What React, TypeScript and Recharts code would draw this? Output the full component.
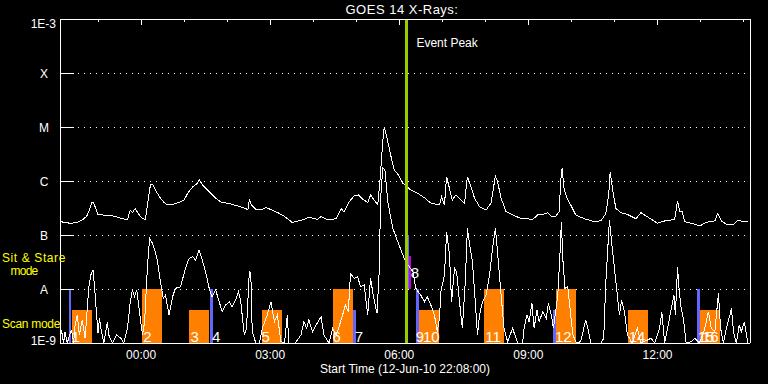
import React from 'react';
import {
  ComposedChart,
  Line,
  Scatter,
  XAxis,
  YAxis,
  CartesianGrid,
  ReferenceArea,
  ReferenceLine,
} from 'recharts';

// time = minutes from 00:00 UT, 13-Jun-10 (negative values are 12-Jun)
const timeDomain = [-113, 849];
const hourTicks = [-60, 0, 60, 120, 180, 240, 300, 360, 420, 480, 540, 600, 660, 720, 780, 840];
const timeLabelTicks = [0, 180, 360, 540, 720];
const fluxTicks = [1e-9, 1e-8, 1e-7, 1e-6, 1e-5, 1e-4, 1e-3];
const fluxTickNames = ['1E-9', 'A', 'B', 'C', 'M', 'X', '1E-3'];

// GOES 14 long channel (1-8 A)
const longTimes = [
  -113, -107, -98, -89, -82, -76, -73, -69, -67, -63,
  -60, -54, -42, -31, -19, -15, -12, -8, -4, 2,
  6, 9, 13, 16, 20, 27, 32, 37, 44, 53,
  60, 65, 72, 79, 81, 86, 95, 104, 111, 127,
  146, 149, 151, 154, 160, 169, 174, 183, 193, 200,
  204, 211, 218, 225, 234, 246, 251, 260, 272, 279,
  283, 290, 297, 303, 309, 316, 320, 325, 330, 333,
  337, 339, 342, 348, 353, 359, 365, 369, 376, 386,
  395, 404, 416, 419, 423, 426, 430, 434, 439, 446,
  451, 455, 460, 465, 472, 481, 488, 494, 497, 502,
  509, 518, 529, 537, 546, 553, 560, 567, 572, 578,
  583, 585, 587, 590, 595, 599, 606, 618, 630, 641,
  648, 652, 654, 658, 662, 669, 678, 690, 697, 704,
  713, 720, 730, 739, 744, 748, 751, 754, 758, 767,
  779, 788, 800, 804, 809, 816, 825, 832, 839, 847,
];
const longFlux = [
  1.8e-7, 1.7e-7, 1.65e-7, 1.7e-7, 1.9e-7, 2.2e-7, 2.7e-7, 3.9e-7, 4.1e-7, 3.1e-7,
  2.4e-7, 2.35e-7, 2.3e-7, 2.1e-7, 1.9e-7, 2.9e-7, 2.6e-7, 3.1e-7, 2.5e-7, 2.0e-7,
  1.95e-7, 3.6e-7, 8.4e-7, 8.7e-7, 6.8e-7, 4.8e-7, 4.0e-7, 3.6e-7, 3.7e-7, 4.0e-7,
  4.45e-7, 5.9e-7, 7.8e-7, 9.1e-7, 1.07e-6, 8.4e-7, 6.3e-7, 4.8e-7, 4.1e-7, 3.7e-7,
  3.1e-7, 2.9e-7, 4.45e-7, 3.6e-7, 3.0e-7, 3.0e-7, 3.2e-7, 2.9e-7, 2.5e-7, 2.2e-7,
  2.0e-7, 1.7e-7, 1.8e-7, 1.9e-7, 2.13e-7, 1.95e-7, 2.2e-7, 1.9e-7, 2.0e-7, 3.1e-7,
  2.63e-7, 4.1e-7, 5.27e-7, 5.5e-7, 4.6e-7, 4.0e-7, 5.5e-7, 4.45e-7, 3.6e-7, 9.7e-7,
  5.3e-6, 1.01e-5, 7.1e-6, 3.03e-6, 1.6e-6, 1.29e-6, 9.1e-7, 8.4e-7, 6.8e-7, 5.9e-7,
  4.9e-7, 3.9e-7, 3.6e-7, 5.1e-7, 3.6e-7, 1.2e-6, 7.3e-7, 4.45e-7, 5.5e-7, 4.45e-7,
  3.9e-7, 1.2e-6, 7.8e-7, 4.8e-7, 3.34e-7, 2.9e-7, 3.9e-7, 1.24e-6, 9.7e-7, 4.8e-7,
  2.7e-7, 2.35e-7, 2.04e-7, 2.0e-7, 1.95e-7, 2.35e-7, 2.4e-7, 2.6e-7, 2.2e-7, 2.2e-7,
  2.7e-7, 9.7e-7, 1.72e-6, 6.8e-7, 4.45e-7, 3.6e-7, 2.35e-7, 2.0e-7, 1.8e-7, 1.82e-7,
  2.5e-7, 5.5e-7, 1.49e-6, 6.3e-7, 3.1e-7, 2.6e-7, 2.4e-7, 2.0e-7, 2.6e-7, 2.25e-7,
  1.9e-7, 1.65e-7, 1.82e-7, 1.9e-7, 1.95e-7, 4.3e-7, 2.7e-7, 2.78e-7, 1.76e-7, 1.65e-7,
  1.47e-7, 1.72e-7, 1.82e-7, 2.5e-7, 1.82e-7, 1.58e-7, 1.53e-7, 1.9e-7, 1.76e-7, 1.82e-7,
];

// GOES 14 short channel (0.5-4 A)
const shortTimes = [
  -113, -111, -108, -106, -103, -97, -94, -92, -89, -86,
  -82, -78, -73, -70, -67, -65, -62, -60, -58, -56,
  -52, -47, -45, -40, -34, -28, -24, -19, -15, -12,
  -9, -6, -2, 2, 5, 9, 12, 16, 20, 23,
  27, 31, 34, 39, 44, 48, 55, 62, 67, 72,
  76, 81, 86, 90, 95, 99, 104, 109, 113, 118,
  123, 127, 132, 136, 139, 144, 147, 151, 153, 155,
  160, 165, 169, 176, 181, 186, 190, 195, 200, 204,
  206, 215, 223, 227, 231, 234, 239, 244, 251, 255,
  262, 267, 272, 276, 281, 285, 289, 292, 297, 302,
  306, 311, 316, 320, 324, 329, 332, 334, 337, 340,
  344, 351, 358, 365, 369, 374, 379, 383, 390, 395,
  399, 404, 409, 413, 416, 418, 423, 426, 430, 433,
  437, 440, 444, 448, 452, 455, 459, 462, 466, 469,
  472, 476, 481, 486, 490, 494, 497, 502, 506, 511,
  518, 525, 532, 534, 538, 541, 545, 548, 552, 555,
  560, 565, 568, 572, 575, 578, 581, 584, 586, 588,
  591, 595, 599, 602, 607, 613, 620, 624, 627, 641,
  645, 648, 651, 653, 656, 660, 664, 667, 670, 674,
  678, 685, 692, 697, 711, 716, 723, 726, 730, 734,
  739, 743, 745, 748, 750, 753, 756, 760, 767, 772,
  779, 786, 791, 795, 800, 805, 808, 812, 816, 821,
  823, 826, 830, 834, 837, 841, 846,
];
const shortFlux = [
  1e-9, 1.74e-9, 1e-9, 1.6e-9, 1e-9, 1.74e-9, 1e-9, 2.15e-9, 3.3e-9, 1.41e-9,
  2.67e-9, 1.22e-9, 1.03e-8, 1.82e-8, 2.25e-8, 1.19e-8, 3.3e-9, 1.53e-9, 2.87e-9, 1.87e-9,
  1e-9, 2.45e-9, 1.41e-9, 1e-9, 1.41e-9, 1.22e-9, 1e-9, 1.87e-9, 5.8e-9, 9.6e-9,
  7.2e-9, 9.6e-9, 3.6e-9, 1.41e-9, 2.48e-9, 2.78e-8, 8.7e-8, 7.0e-8, 4.9e-8, 3.2e-8,
  1.36e-8, 6.7e-9, 7.7e-9, 3.3e-9, 7.2e-9, 1.03e-8, 1.1e-8, 2.42e-8, 3.7e-8, 3.96e-8,
  3.44e-8, 5.27e-8, 3.2e-8, 2.09e-8, 1.03e-8, 7.2e-9, 9.6e-9, 5.8e-9, 3.8e-9, 5.06e-9,
  5.8e-9, 4.7e-9, 6.25e-9, 8.9e-9, 5.8e-9, 1.41e-9, 1.87e-9, 2.09e-8, 1.95e-8, 1.62e-9,
  1e-9, 1e-9, 1.87e-9, 3.3e-9, 5.8e-9, 2.48e-9, 3.3e-9, 1.06e-9, 1e-9, 3.3e-9,
  1e-9, 1e-9, 1.41e-9, 2.48e-9, 1.87e-9, 2.67e-9, 1.62e-9, 2.15e-9, 3.07e-9, 1.41e-9,
  1e-9, 1.87e-9, 1.41e-9, 2.0e-9, 3.3e-9, 5.06e-9, 3.8e-9, 1.95e-8, 1.58e-8, 1.69e-8,
  1.1e-8, 1.19e-8, 3.3e-9, 1.58e-8, 7.2e-9, 3.55e-9, 2.09e-8, 4.8e-7, 1.72e-6, 1.6e-6,
  4.1e-7, 1.33e-7, 7.5e-8, 4.26e-8, 3.2e-8, 2.59e-8, 2.09e-8, 1.03e-8, 7.7e-9, 5.8e-9,
  7.2e-9, 5.06e-9, 3.3e-9, 1.62e-9, 2.87e-9, 8.9e-9, 1.82e-8, 1.15e-7, 4.26e-8, 5.8e-9,
  2.42e-8, 2.09e-8, 5.8e-9, 1.87e-9, 1.36e-8, 1.33e-7, 5.67e-8, 3.2e-8, 5.8e-9, 1.41e-9,
  3.3e-9, 5.8e-9, 7.7e-9, 1.82e-8, 5.67e-8, 1.33e-7, 4.9e-8, 7.7e-9, 1.87e-9, 1.06e-9,
  1.87e-9, 1e-9, 1e-9, 1.87e-9, 3.3e-9, 2.48e-9, 5.4e-9, 1.87e-9, 4.1e-9, 2.48e-9,
  3.8e-9, 2.87e-9, 5.4e-9, 3.3e-9, 1.87e-9, 3.8e-9, 7.7e-9, 4.26e-8, 1.76e-7, 3.7e-8,
  1.03e-8, 1.1e-8, 3.3e-9, 1.41e-9, 1e-9, 1.06e-9, 2.67e-9, 1.62e-9, 1e-9, 1e-9,
  1.22e-9, 1.36e-8, 6.5e-8, 1.9e-7, 7.5e-8, 2.42e-8, 7.7e-9, 3.3e-9, 6.25e-9, 3.8e-9,
  1.41e-9, 1e-9, 1.87e-9, 1e-9, 1.22e-9, 1e-9, 1.87e-9, 3.8e-9, 1e-9, 1.87e-9,
  4.1e-9, 7.7e-9, 3.3e-9, 2.59e-8, 1.03e-8, 4.4e-9, 2.87e-9, 1e-9, 1.06e-9, 1.22e-9,
  1e-9, 1.87e-9, 3.8e-9, 1.87e-9, 1.62e-9, 8.3e-9, 1.87e-9, 1e-9, 1.87e-9, 3.3e-9,
  4.4e-9, 1.62e-9, 1e-9, 2.15e-9, 1.62e-9, 2.48e-9, 1e-9,
];

// observation blocks (orange)
const blockStarts = [-96, 2, 67, 168, 267, 387, 478, 578, 679, 779];
const blockEnds = [-68, 29, 95, 196, 295, 415, 506, 606, 707, 807];
const blockTops = [4e-9, 1e-8, 4e-9, 4e-9, 1e-8, 4e-9, 1e-8, 1e-8, 4e-9, 4e-9];

// short pointings (blue)
const markStarts = [-100, 96, 295, 371, 383, 574, 775];
const markEnds = [-97, 100, 300, 374, 387, 578, 779];
const markBottoms = [1e-9, 1e-9, 1e-9, 1e-8, 1e-9, 1e-9, 1e-9];
const markTops = [1e-8, 1e-8, 4e-9, 1e-7, 1e-8, 4e-9, 1e-8];

// magenta marker near the peak
const peakMarkStart = 373;
const peakMarkEnd = 376;
const peakMarkBottom = 1e-8;
const peakMarkTop = 4e-8;

const eventPeakTime = 370;

// event numbers
const labelNames = ['1', '2', '3', '4', '5', '6', '7', '8', '9', '10', '11', '12', '14', '15', '16'];
const labelTimes = [-97, 3, 69, 99, 168, 267, 298, 376, 383, 393, 480, 577, 680, 776, 782];
const labelLevels = [1e-9, 1e-9, 1e-9, 1e-9, 1e-9, 1e-9, 1e-9, 1.5e-8, 1e-9, 1e-9, 1e-9, 1e-9, 1e-9, 1e-9, 1e-9];

const longData = longTimes.map((t, i) => ({ t, flux: longFlux[i] }));
const shortData = shortTimes.map((t, i) => ({ t, flux: shortFlux[i] }));
const labelData = labelTimes.map((t, i) => ({ t, flux: labelLevels[i], name: labelNames[i] }));

const FONT = "'Liberation Sans', Arial, sans-serif";

const hhmm = (m: number) => {
  const h = ((Math.floor(m / 60) % 24) + 24) % 24;
  const mm = ((m % 60) + 60) % 60;
  return `${String(h).padStart(2, '0')}:${String(mm).padStart(2, '0')}`;
};

const FluxTick = (props: any) => {
  const { x, y, payload } = props;
  const i = Math.round(Math.log10(payload.value)) + 9;
  const name = fluxTickNames[i];
  if (name.length === 1) {
    return (
      <text x={x - 12} y={y + 4.5} textAnchor="middle" fill="#fff" fontSize={12}>
        {name}
      </text>
    );
  }
  return (
    <text x={x} y={y + (i === 0 ? 1.5 : 8.5)} textAnchor="end" fill="#fff" fontSize={12}>
      {name}
    </text>
  );
};

const HourTick = (props: any) => {
  const { x, y, payload } = props;
  const len = payload.value % 180 === 0 ? 6 : 3;
  return <line x1={x} x2={x} y1={y - 3} y2={y - 3 + len} stroke="#fff" />;
};

const EventNumber = (props: any) => {
  const { cx, cy, payload } = props;
  return (
    <text x={cx} y={cy - 1} fill="#fff" fontSize={15}>
      {payload.name}
    </text>
  );
};

const EventPeakLabel = (props: any) => {
  const { viewBox } = props;
  return (
    <text x={viewBox.x + 10} y={viewBox.y + 28} fill="#fff" fontSize={12}>
      Event Peak
    </text>
  );
};

export default function App() {
  return (
    <div
      style={{
        position: 'absolute',
        left: 0,
        top: 0,
        width: 768,
        height: 384,
        background: '#000',
        fontFamily: FONT,
        shapeRendering: 'crispEdges',
      }}
    >
      <ComposedChart width={768} height={384} margin={{ top: 0, right: 0, bottom: 0, left: 0 }}>
        <CartesianGrid vertical={false} stroke="#fff" strokeDasharray="1 5" />
        <XAxis
          dataKey="t"
          type="number"
          domain={timeDomain}
          allowDataOverflow
          ticks={timeLabelTicks}
          tickFormatter={hhmm}
          height={41}
          tickLine={false}
          tickSize={0}
          tickMargin={7}
          axisLine={{ stroke: '#fff' }}
          tick={{ fill: '#fff', fontSize: 12 }}
          label={{ value: 'Start Time (12-Jun-10 22:08:00)', position: 'insideBottom', offset: 11, fill: '#fff', fontSize: 12 }}
        />
        <XAxis
          xAxisId="top"
          orientation="top"
          dataKey="t"
          type="number"
          domain={timeDomain}
          allowDataOverflow
          ticks={hourTicks}
          height={19}
          tickLine={false}
          tickSize={-3}
          tickMargin={0}
          axisLine={{ stroke: '#fff' }}
          tick={<HourTick />}
        />
        <YAxis
          dataKey="flux"
          scale="log"
          type="number"
          domain={[1e-9, 1e-3]}
          allowDataOverflow
          ticks={fluxTicks}
          width={60}
          tickSize={-14}
          tickMargin={18}
          tickLine={{ stroke: '#fff' }}
          axisLine={{ stroke: '#fff' }}
          tick={<FluxTick />}
        />
        <YAxis
          yAxisId="right"
          orientation="right"
          dataKey="flux"
          scale="log"
          type="number"
          domain={[1e-9, 1e-3]}
          allowDataOverflow
          ticks={fluxTicks}
          width={18}
          tickSize={-14}
          tickLine={{ stroke: '#fff' }}
          axisLine={{ stroke: '#fff' }}
          tick={false}
        />

        {blockStarts.map((s, i) => (
          <ReferenceArea
            key={`b${i}`}
            x1={s}
            x2={blockEnds[i]}
            y1={1e-9}
            y2={blockTops[i]}
            fill="#ff8000"
            fillOpacity={1}
            stroke="none"
          />
        ))}
        {markStarts.map((s, i) => (
          <ReferenceArea
            key={`m${i}`}
            x1={s}
            x2={markEnds[i]}
            y1={markBottoms[i]}
            y2={markTops[i]}
            fill="#6464ff"
            fillOpacity={1}
            stroke="none"
          />
        ))}
        <ReferenceArea
          x1={peakMarkStart}
          x2={peakMarkEnd}
          y1={peakMarkBottom}
          y2={peakMarkTop}
          fill="#cc00cc"
          fillOpacity={1}
          stroke="none"
        />

        <Line
          data={shortData}
          dataKey="flux"
          type="linear"
          stroke="#fff"
          strokeWidth={1}
          dot={false}
          activeDot={false}
          isAnimationActive={false}
        />
        <Line
          data={longData}
          dataKey="flux"
          type="linear"
          stroke="#fff"
          strokeWidth={1}
          dot={false}
          activeDot={false}
          isAnimationActive={false}
        />

        <ReferenceLine x={eventPeakTime} stroke="#99cc00" strokeWidth={2.5} label={EventPeakLabel} />

        <Scatter data={labelData} dataKey="flux" shape={EventNumber} isAnimationActive={false} />
      </ComposedChart>

      <svg width={768} height={384} style={{ position: 'absolute', left: 0, top: 0, pointerEvents: 'none' }}>
        <text x={402} y={14} textAnchor="middle" fill="#fff" fontSize={13} letterSpacing={0.5}>
          GOES 14 X-Rays:
        </text>
        <text x={2} y={262} fill="#ffff00" fontSize={12} letterSpacing={0.6}>
          Sit &amp; Stare
        </text>
        <text x={24} y={275} textAnchor="middle" fill="#ffff00" fontSize={12} letterSpacing={-0.8}>
          mode
        </text>
        <text x={2} y={328} fill="#ffff00" fontSize={12} letterSpacing={-0.3}>
          Scan mode
        </text>
      </svg>
    </div>
  );
}
